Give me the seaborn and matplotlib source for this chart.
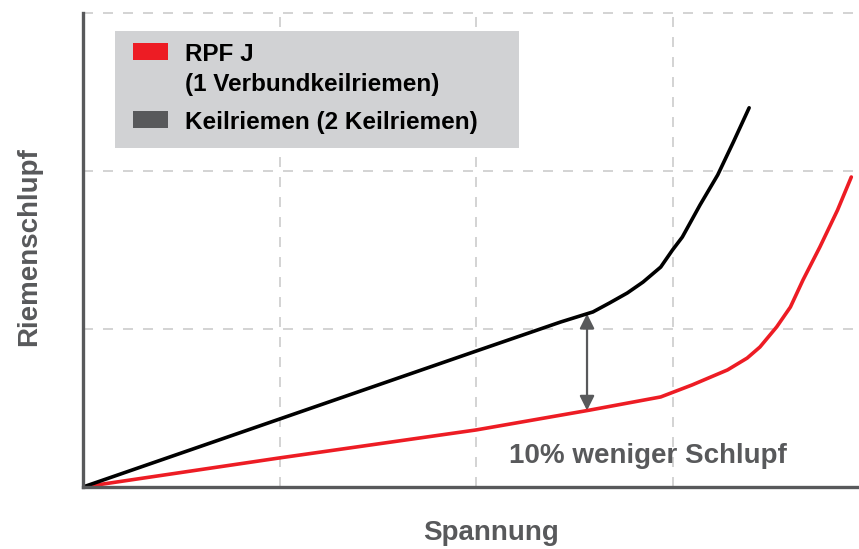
import numpy as np
import pandas as pd
import matplotlib
matplotlib.use("Agg")
from matplotlib import pyplot as plt
from matplotlib.patches import Rectangle
import seaborn as sns

# values (x: Spannung, y: Riemenschlupf, arbitrary units)
keil_x = [0.0, 1.0, 2.0, 2.43, 2.595, 2.68, 2.77, 2.85, 2.94, 3.0, 3.05, 3.14,
          3.23, 3.31, 3.39]
keil_y = [0.0, 0.43, 0.86, 1.044, 1.108, 1.165, 1.228, 1.297, 1.392, 1.5, 1.582,
          1.785, 1.975, 2.184, 2.4]

rpf_x = [0.0, 1.0, 2.0, 2.58, 2.94, 3.1, 3.28, 3.38, 3.445, 3.53, 3.6, 3.664,
         3.75, 3.84, 3.91]
rpf_y = [0.0, 0.184, 0.361, 0.487, 0.57, 0.646, 0.741, 0.816, 0.886, 1.013,
         1.139, 1.31, 1.519, 1.753, 1.962]

series_names = ["RPF J\n(1 Verbundkeilriemen)", "Keilriemen (2 Keilriemen)"]
series_colors = ["#ed1c24", "#58595b"]
line_colors = ["#ed1c24", "#000000"]
arrow_x = 2.565
note = "10% weniger Schlupf"

GRAY = "#58595b"

sns.set_theme(style="white")
plt.rcParams["font.family"] = ["Liberation Sans", "DejaVu Sans"]
plt.rcParams["font.weight"] = "bold"

df = pd.concat([
    pd.DataFrame({"x": rpf_x, "y": rpf_y, "s": series_names[0]}),
    pd.DataFrame({"x": keil_x, "y": keil_y, "s": series_names[1]}),
])

fig = plt.figure(figsize=(8.59, 5.49), dpi=100)
ax = fig.add_axes([83 / 859, 62 / 549, 775 / 859, 474 / 549])

sns.lineplot(data=df, x="x", y="y", hue="s", palette=line_colors,
             linewidth=2.6, legend=False, ax=ax, zorder=4)
for line in ax.get_lines():
    line.set_solid_joinstyle("round")

ax.set_xlim(0, 3.944)
ax.set_ylim(0, 3.0)
ax.set_xticks([1, 2, 3])
ax.set_yticks([1, 2, 3])
ax.tick_params(length=0, labelbottom=False, labelleft=False)
ax.grid(True, color="#cccccc", linewidth=1.2, linestyle=(0, (6, 6)))
for gl in ax.get_ygridlines() + ax.get_xgridlines():
    gl.set_clip_on(False)

for side in ["top", "right"]:
    ax.spines[side].set_visible(False)
for side in ["left", "bottom"]:
    ax.spines[side].set_color(GRAY)
    ax.spines[side].set_linewidth(2.4)
    ax.spines[side].set_zorder(5)

# double arrow between both curves
y_top = np.interp(arrow_x, keil_x, keil_y)
y_bot = np.interp(arrow_x, rpf_x, rpf_y)
ax.annotate("", xy=(arrow_x, y_top), xytext=(arrow_x, y_bot),
            arrowprops=dict(arrowstyle="<|-|>", color=GRAY, lw=1.6,
                            mutation_scale=22, shrinkA=0, shrinkB=0),
            zorder=3)
ax.text(0.729, 0.065, note, transform=ax.transAxes, ha="center",
        va="center", fontsize=20, fontweight="bold", color=GRAY)

ax.set_xlabel("Spannung", fontsize=20, fontweight="bold", color=GRAY)
ax.set_ylabel("Riemenschlupf", fontsize=20, fontweight="bold", color=GRAY)
ax.xaxis.set_label_coords(0.526, -0.070)
ax.yaxis.set_label_coords(-0.053, 0.508)

# legend box
ax.add_patch(Rectangle((0.0413, 0.7152), 0.5213, 0.2468, transform=ax.transAxes,
                       facecolor="#d1d2d4", edgecolor="none", zorder=6))
handle_y = [0.9008, 0.7574]
for name, color, hy in zip(series_names, series_colors, handle_y):
    ax.add_patch(Rectangle((0.0645, hy), 0.0452, 0.0359, transform=ax.transAxes,
                           facecolor=color, edgecolor="none", zorder=7))
    ax.text(0.1316, hy + 0.0359, name, transform=ax.transAxes, ha="left",
            va="top", fontsize=17.5, fontweight="bold", color="#000000",
            linespacing=1.37, zorder=7)

fig.savefig("out.png", dpi=100)
